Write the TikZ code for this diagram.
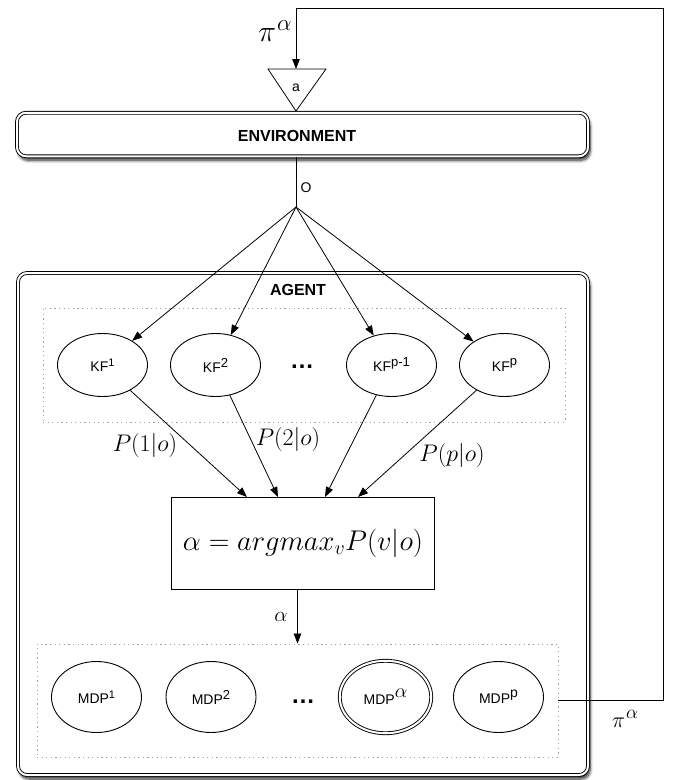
\RequirePackage{fix-cm}
\documentclass[tikz,border=0pt]{standalone}
\usepackage[no-math]{fontspec}
\setmainfont{Liberation Sans}
\usetikzlibrary{arrows.meta,shapes.geometric,shadows.blur}

\newcommand{\sz}[1]{\fontsize{#1}{#1}\selectfont}
\newcommand{\upidx}[1]{\raisebox{5pt}{\sz{11}#1}}

\tikzset{
  line/.style={line width=0.8pt},
  arr/.style={line, -{Triangle[length=10pt,width=7.5pt]}},
  framebox/.style={draw, line width=0.9pt, double=white, double distance=2pt,
    rounded corners=9pt, fill=white,
    blur shadow={shadow xshift=2pt, shadow yshift=-4pt, shadow blur radius=3pt,
      shadow blur steps=10, shadow opacity=85}},
  group/.style={draw=gray!75, line width=0.9pt, dash pattern=on 1.2pt off 3.4pt,
    rectangle, inner sep=0pt},
  kf/.style={ellipse, draw, line width=0.9pt, inner sep=0pt,
    minimum width=90pt, minimum height=63pt, font=\sz{14}},
  mdp/.style={ellipse, draw, line width=0.9pt, inner sep=0pt,
    minimum width=90pt, minimum height=71pt, font=\sz{14}},
  title/.style={font=\sz{16}\bfseries, inner sep=0pt},
  mathlbl/.style={font=\sz{24}, inner sep=0pt},
  dots/.style={font=\sz{24}\bfseries, inner sep=0pt},
}

\begin{document}
\begin{tikzpicture}[x=1pt, y=-1pt]
\useasboundingbox (0,0) rectangle (676,780);

% environment block with the action input
\node[framebox, minimum width=571pt, minimum height=43.5pt] (env) at (302.5,134.5) {};
\node[title] (envtext) at (297,136) {ENVIRONMENT};
\coordinate (triL) at (268,69);
\coordinate (triR) at (326,69);
\coordinate (triB) at (296,111);
\coordinate (tritop) at (296,69);
\draw[line, fill=white] (triL) -- (triR) -- (triB) -- cycle;
\node[font=\sz{14}, inner sep=0pt] (act) at (296,88) {a};

% agent block
\node[framebox, minimum width=570pt, minimum height=502pt] (agent) at (303,524) {};
\node[title] (agenttext) at (298,290) {AGENT};

% Kalman filter bank
\node[group, minimum width=522pt, minimum height=114pt] (kfgroup) at (304,365) {};
\node[kf] (kf1) at (102.5,365) {KF\upidx{1}};
\node[kf] (kf2) at (215.5,365) {KF\upidx{\sz{13}2}};
\node[dots] (kfdots) at (302,367) {…};
\node[kf] (kfp1) at (391.5,365) {KF\upidx{\sz{13}p-1}};
\node[kf] (kfp) at (504.5,365) {KF\raisebox{6pt}{\sz{13}p}};

% observation fan-out
\coordinate (fan) at (296,207);
\draw[line] (fan |- env.south) -- (fan);
\node[font=\sz{14}, inner sep=0pt] (olabel) at (306,188) {O};
\foreach \k in {kf1,kf2,kfp1,kfp} \draw[arr] (fan) -- (\k);

% model selection
\node[draw, line width=0.9pt, minimum width=263pt, minimum height=92pt, inner sep=0pt,
  font=\sz{28.5}] (sel) at (303,543.5) {$\alpha = argmax_v P(v|o)$};
\coordinate (in1) at (247,497);
\coordinate (in2) at (278,497);
\coordinate (in3) at (325,497);
\coordinate (in4) at (358,497);
\draw[arr] (kf1) -- (in1);
\draw[arr] (kf2) -- (in2);
\draw[arr] (kfp1) -- (in3);
\draw[arr] (kfp) -- (in4);
\node[mathlbl] (p1) at (145,445) {$P(1|o)$};
\node[mathlbl] (p2) at (288,439) {$P(2|o)$};
\node[mathlbl] (pp) at (452,455) {$P(p|o)$};

% MDP bank
\node[group, minimum width=521pt, minimum height=113pt] (mdpgroup) at (297.5,700.5) {};
\node[mdp] (mdp1) at (96.5,697) {MDP\upidx{1}};
\node[mdp] (mdp2) at (211,697) {MDP\upidx{\sz{13}2}};
\node[dots] (mdpdots) at (303,702) {…};
\node[mdp, double, double distance=2pt, minimum width=91.5pt, minimum height=72.5pt]
  (mdpa) at (385.5,697) {MDP\raisebox{7pt}{\sz{20}$\alpha$}};
\node[mdp] (mdpp) at (498.5,697) {MDP\raisebox{6pt}{\sz{14}p}};

\draw[arr] (mdpgroup.north |- sel.south) -- (mdpgroup.north);
\node[font=\sz{21}, inner sep=0pt] (alab) at (281,617) {$\alpha$};

% policy fed back to the environment
\coordinate (railtop) at (663,8);
\draw[arr] (mdpgroup.east) -| (railtop) -| (tritop);
\node[font=\sz{30}, inner sep=0pt] (pitop) at (275,31) {$\pi$\kern1pt\raisebox{11pt}{\sz{23}$\alpha$}};
\node[font=\sz{22}, inner sep=0pt] (pibot) at (625,719) {$\pi$\kern1pt\raisebox{9pt}{\sz{19}$\alpha$}};
\end{tikzpicture}
\end{document}
